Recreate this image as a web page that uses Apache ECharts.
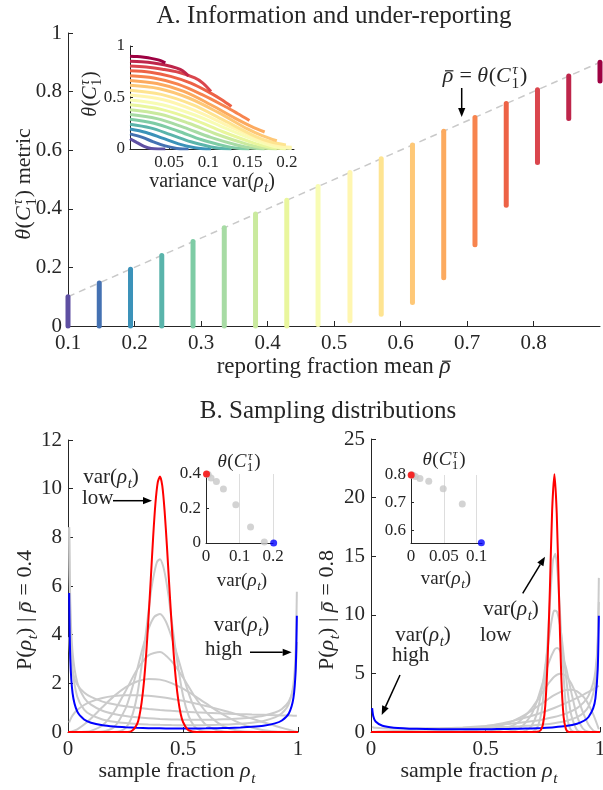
<!DOCTYPE html>
<html><head><meta charset="utf-8">
<script src="https://cdn.jsdelivr.net/npm/echarts@6/dist/echarts.min.js"></script>
<style>html,body{margin:0;padding:0;background:#fff}#c{width:603px;height:790px}</style>
</head><body><div id="c"></div>
<script>
// ---------------- DATA ----------------
// Panel A: reporting fraction mean (columns), column top / bottom of theta metric
const colMean   = [0.1,0.147,0.194,0.241,0.288,0.335,0.382,0.429,0.476,0.524,0.571,0.618,0.665,0.712,0.759,0.806,0.853,0.9];
const colTop    = [0.1,0.147,0.194,0.241,0.288,0.335,0.382,0.429,0.476,0.524,0.571,0.618,0.665,0.712,0.759,0.806,0.853,0.9];
const colBottom = [0,0,0,0,0,0,0,0,0.005,0.018,0.04,0.08,0.165,0.277,0.412,0.558,0.708,0.836];
// Panel A inset: theta vs variance, one curve per mean
const insetVar = [
 [0,0.009,0.018,0.027,0.036,0.0405,0.045],
 [0,0.0149,0.0298,0.0448,0.0597,0.0671,0.0746],
 [0,0.0206,0.0413,0.0619,0.0826,0.0929,0.1032],
 [0,0.0259,0.0517,0.0776,0.1034,0.1164,0.1293],
 [0,0.0304,0.0609,0.0913,0.1218,0.137,0.1522],
 [0,0.0343,0.0686,0.103,0.1373,0.1544,0.1716],
 [0,0.0374,0.0748,0.1123,0.1497,0.1684,0.1871],
 [0,0.0397,0.0795,0.1192,0.159,0.1788,0.1987],
 [0,0.0412,0.0824,0.1237,0.1649,0.1855,0.2061],
 [0,0.0412,0.0824,0.1237,0.1649,0.1855,0.2061],
 [0,0.0397,0.0795,0.1192,0.159,0.1788,0.1987],
 [0,0.0374,0.0748,0.1123,0.1497,0.1684,0.1871],
 [0,0.0343,0.0686,0.103,0.1373,0.1544,0.1716],
 [0,0.0304,0.0609,0.0913,0.1218,0.137,0.1522],
 [0,0.0259,0.0517,0.0776,0.1034,0.1164,0.1293],
 [0,0.0206,0.0413,0.0619,0.0826,0.0929,0.1032],
 [0,0.0149,0.0298,0.0448,0.0597,0.0671,0.0746],
 [0,0.009,0.018,0.027,0.036,0.0405,0.045]];
const insetTheta = [
 [0.1,0.062,0.025,0.004,0,0,0],
 [0.147,0.115,0.07,0.03,0.005,0,0],
 [0.194,0.16,0.105,0.05,0.012,0.002,0],
 [0.241,0.205,0.14,0.07,0.02,0.005,0],
 [0.288,0.25,0.175,0.09,0.028,0.008,0],
 [0.335,0.295,0.21,0.113,0.036,0.01,0],
 [0.382,0.34,0.25,0.138,0.045,0.013,0],
 [0.429,0.385,0.29,0.165,0.055,0.016,0],
 [0.476,0.43,0.33,0.195,0.07,0.022,0.005],
 [0.524,0.48,0.375,0.23,0.09,0.035,0.018],
 [0.571,0.53,0.43,0.28,0.125,0.07,0.04],
 [0.618,0.585,0.495,0.355,0.195,0.13,0.08],
 [0.665,0.635,0.56,0.43,0.285,0.22,0.165],
 [0.712,0.69,0.63,0.53,0.41,0.345,0.277],
 [0.759,0.745,0.705,0.64,0.54,0.48,0.412],
 [0.806,0.795,0.775,0.745,0.69,0.64,0.558],
 [0.853,0.847,0.835,0.815,0.785,0.76,0.708],
 [0.9,0.897,0.89,0.88,0.865,0.853,0.836]];

// Panel B left (mean 0.4): sample grid and densities
const distL_x = [0.005,0.01,0.02,0.04,0.07,0.1,0.15,0.2,0.25,0.3,0.35,0.4,0.45,0.5,0.55,0.6,0.65,0.7,0.75,0.8,0.85,0.9,0.93,0.96,0.98,0.99,0.995];
const distL_blue = [5.71,3.0,1.59,0.846,0.516,0.381,0.275,0.222,0.191,0.171,0.159,0.151,0.146,0.144,0.145,0.149,0.156,0.167,0.184,0.212,0.26,0.355,0.473,0.76,1.39,2.58,4.78];
const distL_g8 = [8.4,4.66,2.59,1.46,0.92,0.70,0.516,0.423,0.368,0.332,0.309,0.293,0.284,0.279,0.28,0.285,0.295,0.313,0.34,0.383,0.456,0.60,0.77,1.16,1.96,3.35,5.76];
const distL_g7 = [8.42,5.24,3.26,2.04,1.41,1.125,0.875,0.741,0.657,0.602,0.563,0.536,0.518,0.507,0.502,0.504,0.512,0.528,0.555,0.598,0.67,0.80,0.946,1.25,1.79,2.57,3.7];
const distL_g6 = [3.9,3.09,2.45,1.95,1.62,1.44,1.25,1.14,1.06,0.996,0.946,0.905,0.87,0.84,0.814,0.791,0.77,0.751,0.734,0.718,0.704,0.69,0.683,0.676,0.671,0.669,0.668];
const distL_g5 = [0.39,0.51,0.68,0.90,1.11,1.25,1.40,1.48,1.51,1.51,1.49,1.44,1.37,1.28,1.18,1.07,0.95,0.82,0.69,0.55,0.40,0.26,0.17,0.09,0.04,0.02,0.01];
const distL_g4 = [0.002,0.008,0.03,0.112,0.306,0.556,1.025,1.474,1.836,2.077,2.18,2.153,2.01,1.778,1.485,1.173,0.861,0.583,0.354,0.184,0.076,0.021,0.006,0.001,0,0,0];
const distL_g3 = [0,0,0,0,0.008,0.044,0.274,0.834,1.677,2.555,3.156,3.29,2.91,2.24,1.47,0.83,0.384,0.143,0.04,0.008,0,0,0,0,0,0,0];
const distL_g2 = [[0,0],[0.1,0],[0.15,0.016],[0.2,0.198],[0.25,0.963],[0.275,1.67],[0.3,2.54],[0.325,3.46],[0.35,4.24],[0.375,4.73],[0.4,4.85],[0.425,4.55],[0.45,3.92],[0.475,3.15],[0.5,2.33],[0.525,1.58],[0.55,0.976],[0.575,0.57],[0.6,0.297],[0.65,0.059],[0.7,0.008],[0.75,0],[1,0]];
const distL_g1 = [[0,0],[0.2,0.005],[0.225,0.03],[0.25,0.157],[0.275,0.56],[0.3,1.48],[0.325,3.06],[0.35,4.95],[0.3625,5.88],[0.375,6.54],[0.3875,7.0],[0.4,7.1],[0.4125,6.85],[0.425,6.32],[0.4375,5.56],[0.45,4.63],[0.475,2.9],[0.5,1.5],[0.525,0.65],[0.55,0.225],[0.575,0.068],[0.6,0.016],[0.65,0],[1,0]];
const distL_red = [[0,0],[0.26,0],[0.28,0.06],[0.3,0.32],[0.31,0.64],[0.32,1.21],[0.33,2.04],[0.34,3.21],[0.35,4.68],[0.36,6.3],[0.37,7.98],[0.38,9.38],[0.39,10.25],[0.4,10.5],[0.41,10.11],[0.42,9.09],[0.43,7.66],[0.44,6.06],[0.45,4.52],[0.46,3.15],[0.47,2.06],[0.48,1.28],[0.49,0.74],[0.5,0.41],[0.52,0.1],[0.54,0.02],[0.56,0],[1,0]];

// Panel B right (mean 0.8)
const distR_x = [0.005,0.01,0.02,0.05,0.1,0.2,0.3,0.4,0.5,0.55,0.6,0.65,0.7,0.75,0.8,0.85,0.9,0.93,0.95,0.97,0.98,0.99,0.995];
const distR_blue = [2.03,1.34,0.894,0.531,0.368,0.27,0.238,0.23,0.238,0.247,0.26,0.28,0.307,0.348,0.409,0.51,0.71,0.96,1.28,2.01,2.87,5.33,9.92];
const distR_g8 = [0.43,0.39,0.359,0.324,0.307,0.306,0.321,0.349,0.39,0.418,0.453,0.498,0.556,0.635,0.75,0.932,1.27,1.67,2.17,3.24,4.44,7.64,13.15];
const distR_g7 = [0.007,0.013,0.023,0.051,0.096,0.185,0.281,0.39,0.521,0.599,0.687,0.79,0.914,1.07,1.274,1.566,2.045,2.545,3.1,4.16,5.21,7.62,11.1];
const distR_g6 = [0,0,0,0.0005,0.004,0.032,0.108,0.256,0.5,0.666,0.864,1.099,1.372,1.688,2.048,2.457,2.916,3.218,3.43,3.651,3.765,3.881,3.94];
const distR_g5 = [[0,0],[0.25,0.001],[0.3,0.008],[0.4,0.057],[0.5,0.252],[0.55,0.461],[0.6,0.781],[0.65,1.23],[0.7,1.81],[0.75,2.48],[0.8,3.14],[0.85,3.58],[0.875,3.61],[0.9,3.47],[0.93,2.95],[0.95,2.35],[0.97,1.53],[0.98,1.04],[0.99,0.5],[0.995,0.235]];
const distR_g4 = [[0,0],[0.4,0],[0.45,0.008],[0.5,0.034],[0.55,0.125],[0.6,0.375],[0.65,0.94],[0.7,1.97],[0.725,2.66],[0.75,3.42],[0.775,4.14],[0.8,4.72],[0.825,4.98],[0.85,4.81],[0.875,4.12],[0.9,3.0],[0.93,1.46],[0.95,0.62],[0.97,0.14],[0.98,0.038],[0.99,0.003],[0.995,0]];
const distR_g3 = [[0,0],[0.55,0.003],[0.6,0.048],[0.65,0.33],[0.7,1.47],[0.725,2.64],[0.75,4.2],[0.775,5.85],[0.8,7.0],[0.8125,7.17],[0.825,6.97],[0.85,5.6],[0.875,3.36],[0.9,1.35],[0.925,0.3],[0.95,0.02],[0.97,0],[0.995,0]];
const distR_g2 = [[0,0],[0.65,0.02],[0.675,0.11],[0.7,0.48],[0.725,1.61],[0.75,4.12],[0.762,5.78],[0.775,7.7],[0.79,9.64],[0.8,10.37],[0.812,10.28],[0.825,9.16],[0.837,7.35],[0.85,4.98],[0.8625,2.91],[0.875,1.4],[0.9,0.16],[0.925,0.005],[0.95,0],[0.995,0]];
const distR_g1 = [[0,0],[0.7,0],[0.725,0.36],[0.74,1.26],[0.75,2.54],[0.765,5.89],[0.775,9.02],[0.785,12.2],[0.795,14.69],[0.805,15.2],[0.815,13.52],[0.825,10.31],[0.835,6.68],[0.85,2.37],[0.86,0.9],[0.875,0.13],[0.9,0],[0.995,0]];
const distR_red = [[0,0],[0.7,0],[0.726,0.02],[0.741,0.15],[0.751,0.66],[0.761,2.23],[0.771,6.05],[0.781,12.07],[0.791,18.9],[0.801,22],[0.811,18.7],[0.821,11.6],[0.831,4.67],[0.841,1.31],[0.851,0.27],[0.861,0.02],[0.875,0],[1,0]];

// Panel B insets: theta vs variance
const insetL_grayVar   = [0.003,0.0065,0.015,0.031,0.052,0.089,0.133,0.174];
const insetL_grayTheta = [0.399,0.397,0.377,0.356,0.313,0.222,0.093,0.006];
const insetL_red  = [0.0015,0.4];
const insetL_blue = [0.202,0];
const insetR_grayVar   = [0.0007,0.0015,0.0031,0.0066,0.0136,0.027,0.049,0.078];
const insetR_grayTheta = [0.8,0.8,0.799,0.795,0.787,0.777,0.75,0.695];
const insetR_red  = [0.0003,0.8];
const insetR_blue = [0.107,0.555];

// tick labels
const ticksA_x = [0.1,0.2,0.3,0.4,0.5,0.6,0.7,0.8];
const ticksAin_x = [0.05,0.1,0.15,0.2];
const ticksRin_x = [0,0.05,0.1];
const ticksRin_y = [0.6,0.7,0.8];

// ---------------- STYLE / HELPERS ----------------
const FONT = 'Liberation Serif';
const INK = '#262626';
const GRAY = '#cbcbcb';
const SPEC = ['#5e4fa2','#3288bd','#66c2a5','#abdda4','#e6f598','#ffffbf','#fee08b','#fdae61','#f46d43','#d53e4f','#9e0142'];
function hex2rgb(h){return [1,3,5].map(i=>parseInt(h.substr(i,2),16));}
function specColor(t){const p=t*(SPEC.length-1);const i=Math.min(Math.floor(p),SPEC.length-2);const f=p-i;const a=hex2rgb(SPEC[i]),b=hex2rgb(SPEC[i+1]);return 'rgb('+a.map((v,k)=>Math.round(v+(b[k]-v)*f)).join(',')+')';}
const cols = colMean.map((m,i)=>specColor(i/(colMean.length-1)));

const mctx = document.createElement('canvas').getContext('2d');
function tw(s,size,it){mctx.font=(it?'italic ':'')+size+'px "'+FONT+'"';return mctx.measureText(s).width;}
function T(s,x,yBase,size,it){
  return {type:'text',x:x,y:yBase-0.34*size,silent:true,
    style:{text:s,fontFamily:FONT,fontSize:size,fontStyle:it?'italic':'normal',fill:INK,
      align:'left',verticalAlign:'middle',textAlign:'left',textVerticalAlign:'middle'}};
}
function M(tokens,size,cx,cy,opt){
  opt=opt||{};const ch=[];let x=0;
  tokens.forEach(tk=>{
    if(typeof tk==='string') tk={s:tk};
    if(tk.sup!=null){
      const s2=size*0.7;
      ch.push(T(tk.sup,x+0.04*size,-0.38*size,s2,true));
      ch.push(T(tk.sub,x,0.22*size,s2,false));
      x+=Math.max(tw(tk.sup,s2,true)+0.04*size,tw(tk.sub,s2,false))+0.04*size;
    } else {
      const s2=size*(tk.sc||1);
      const w=tw(tk.s,s2,tk.it);
      ch.push(T(tk.s,x,(tk.dy||0)*size,s2,tk.it));
      if(tk.bar) ch.push({type:'line',silent:true,shape:{x1:x+0.22*w,y1:-0.6*size,x2:x+1.02*w,y2:-0.6*size},style:{stroke:INK,lineWidth:1.2}});
      x+=w+(tk.it&&!tk.sc?0.03*size:0);
    }
  });
  const off=opt.align==='left'?0:(opt.align==='right'?-x:-x/2);
  ch.forEach(c=>{if(c.type==='text')c.x+=off;else{c.shape.x1+=off;c.shape.x2+=off;}});
  return {type:'group',x:cx,y:cy,rotation:opt.rot||0,children:ch,silent:true};
}
function arrow(x1,y1,x2,y2){
  const a=Math.atan2(y2-y1,x2-x1),L=9,W=3.6;
  const bx=x2-L*Math.cos(a),by=y2-L*Math.sin(a);
  return [{type:'line',silent:true,shape:{x1:x1,y1:y1,x2:bx,y2:by},style:{stroke:'#000',lineWidth:1.5}},
    {type:'polygon',silent:true,shape:{points:[[x2,y2],[bx+W*Math.sin(a),by-W*Math.cos(a)],[bx-W*Math.sin(a),by+W*Math.cos(a)]]},style:{fill:'#000'}}];
}
function axis(gi,min,max,fs,tl,ex){
  ex=ex||{};
  const a={type:'value',gridIndex:gi,min:min,max:max,
    axisLine:{show:true,onZero:false,lineStyle:{color:INK,width:1}},
    axisTick:{show:true,inside:true,length:tl,lineStyle:{color:INK,width:1}},
    axisLabel:{show:true,color:INK,fontFamily:FONT,fontSize:fs,margin:ex.margin!=null?ex.margin:5},
    splitLine:{show:false}};
  if(ex.interval!=null)a.interval=ex.interval;
  if(ex.ticks){a.axisLabel.customValues=ex.ticks;a.axisTick.customValues=ex.ticks;}
  return a;
}
const zip=(xs,ys)=>xs.map((x,i)=>[x,ys[i]]);

// ---------------- GRIDS / AXES ----------------
const grids=[
  {left:68,top:33,width:532,height:293},
  {left:130,top:46,width:164,height:103},
  {left:68,top:440,width:230,height:292},
  {left:371,top:439,width:229,height:293},
  {left:206,top:474,width:67,height:69},
  {left:411,top:475,width:71,height:68}
].map(g=>Object.assign(g,{containLabel:false,outerBoundsMode:'none'}));

const xAxes=[
  axis(0,0.1,0.9,21,5,{ticks:ticksA_x,margin:7}),
  axis(1,0,0.209,17,3,{ticks:ticksAin_x,margin:5}),
  axis(2,0,1,21,5,{interval:0.5,margin:7}),
  axis(3,0,1,21,5,{interval:0.5,margin:7}),
  axis(4,0,0.2,17,3,{interval:0.1,margin:5}),
  axis(5,0,0.108,17,3,{ticks:ticksRin_x,margin:5})
];
const yAxes=[
  axis(0,0,1,21,5,{interval:0.2,margin:6}),
  axis(1,0,1,17,3,{interval:0.5,margin:5}),
  axis(2,0,12,21,5,{interval:2,margin:6}),
  axis(3,0,25,21,5,{interval:5,margin:6}),
  axis(4,0,0.4,17,3,{interval:0.2,margin:5}),
  axis(5,0.554,0.8,17,3,{ticks:ticksRin_y,margin:5})
];

// ---------------- SERIES ----------------
const series=[];
const base={silent:true,animation:false};
// dashed identity line
series.push(Object.assign({type:'line',xAxisIndex:0,yAxisIndex:0,data:[[colMean[0],colMean[0]],[colMean[17],colMean[17]]],symbol:'none',
  lineStyle:{color:'#c9c9c9',width:1.5,type:[7,5]},z:2},base));
colMean.forEach((m,i)=>{
  series.push(Object.assign({type:'line',xAxisIndex:0,yAxisIndex:0,data:[[m,colBottom[i]],[m,colTop[i]]],symbol:'none',clip:false,
    lineStyle:{color:cols[i],width:5,cap:'round'},z:3},base));
});
insetVar.forEach((vs,i)=>{
  series.push(Object.assign({type:'line',xAxisIndex:1,yAxisIndex:1,data:zip(vs,insetTheta[i]),symbol:'none',smooth:0.35,
    lineStyle:{color:cols[i],width:3},z:3},base));
});
function distLine(gi,data,color,z){
  series.push(Object.assign({type:'line',xAxisIndex:gi,yAxisIndex:gi,data:data,symbol:'none',smooth:0.25,
    lineStyle:{color:color,width:2},z:z},base));
}
[distL_g8,distL_g7,distL_g6,distL_g5,distL_g4,distL_g3].forEach(ys=>distLine(2,zip(distL_x,ys),GRAY,2));
[distL_g2,distL_g1].forEach(d=>distLine(2,d,GRAY,2));
distLine(2,zip(distL_x,distL_blue),'#0000ff',3);
distLine(2,distL_red,'#ff0000',4);
[distR_g8,distR_g7,distR_g6].forEach(ys=>distLine(3,zip(distR_x,ys),GRAY,2));
[distR_g5,distR_g4,distR_g3,distR_g2,distR_g1].forEach(d=>distLine(3,d,GRAY,2));
distLine(3,zip(distR_x,distR_blue),'#0000ff',3);
distLine(3,distR_red,'#ff0000',4);
// insets B
function insetPts(gi,gv,gt,red,blue,vlines){
  series.push(Object.assign({type:'scatter',xAxisIndex:gi,yAxisIndex:gi,data:zip(gv,gt),symbolSize:7,clip:false,
    itemStyle:{color:'#c8c8c8'},z:3,
    markLine:{silent:true,symbol:['none','none'],label:{show:false},lineStyle:{color:'#dddddd',type:'solid',width:1},
      data:vlines.map(v=>({xAxis:v})),z:1}},base));
  series.push(Object.assign({type:'scatter',xAxisIndex:gi,yAxisIndex:gi,data:[red],symbolSize:7,clip:false,itemStyle:{color:'#ff0000'},z:5},base));
  series.push(Object.assign({type:'scatter',xAxisIndex:gi,yAxisIndex:gi,data:[blue],symbolSize:7,clip:false,itemStyle:{color:'#0000ff'},z:5},base));
}
insetPts(4,insetL_grayVar,insetL_grayTheta,insetL_red,insetL_blue,[0.1,0.2]);
insetPts(5,insetR_grayVar,insetR_grayTheta,insetR_red,insetR_blue,[0.05,0.1]);

// ---------------- TEXT ----------------
const th=[{s:'θ',it:1},'(',{s:'C',it:1},{sup:'τ',sub:'1'},')'];
const rt=[{s:'ρ',it:1},{s:'t',it:1,sc:0.7,dy:0.22}];
const rb={s:'ρ',it:1,bar:1};
const R=Math.PI/2;
const G=[
  M(['A. Information and under-reporting'],25,334,25),
  M(['reporting fraction mean ',rb],23,334,375),
  M(th.concat([' metric']),22,32,184,{rot:R}),
  M(th,20,98,94,{rot:R}),
  M(['variance var('].concat(rt,[')']),20,212,189),
  M([rb,' = '].concat(th),22,485,84),
  M(['B. Sampling distributions'],25,328,420),
  M(['P('].concat(rt,[') | ',rb,' = 0.4']),22,33,610,{rot:R}),
  M(['P('].concat(rt,[') | ',rb,' = 0.8']),22,335,610,{rot:R}),
  M(['sample fraction '].concat(rt),22,177,779),
  M(['sample fraction '].concat(rt),22,479,779),
  M(th,19,239,468),
  M(['var('].concat(rt,[')']),19,242,587),
  M(th,19,444,466),
  M(['var('].concat(rt,[')']),19,446,585),
  M(['var('].concat(rt,[')']),21,111,485),
  M(['low'],21,82,505.5,{align:'left'}),
  M(['var('].concat(rt,[')']),21,241.5,633),
  M(['high'],21,205,656.5,{align:'left'}),
  M(['var('].concat(rt,[')']),21,423,643),
  M(['high'],21,392,663,{align:'left'}),
  M(['var('].concat(rt,[')']),21,511,617),
  M(['low'],21,480,643,{align:'left'})
].concat(arrow(461.7,88,461.7,117),arrow(113,500.7,152,500.7),arrow(250,652.3,291.7,652.3),
         arrow(400,675,381.7,715),arrow(522.7,593.3,545,556.7));

const chart=echarts.init(document.getElementById('c'),null,{renderer:'canvas',width:603,height:790});
chart.setOption({animation:false,backgroundColor:'#ffffff',grid:grids,xAxis:xAxes,yAxis:yAxes,series:series,graphic:{elements:G}});
</script></body></html>
